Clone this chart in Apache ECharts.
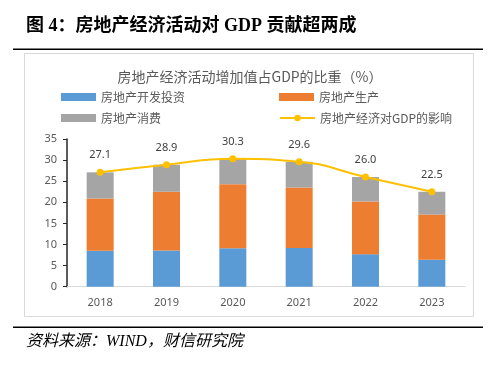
<!DOCTYPE html>
<html><head><meta charset="utf-8">
<script src="https://cdn.jsdelivr.net/npm/echarts@6/dist/echarts.min.js"></script>
<style>html,body{margin:0;padding:0;background:#fff}#c{width:500px;height:366px}</style>
</head><body><div id="c"></div>
<script>
const categories = ['2018','2019','2020','2021','2022','2023'];
const invest = [8.5, 8.6, 9.1, 9.2, 7.7, 6.4];
const produce = [12.4, 13.9, 15.2, 14.3, 12.5, 10.7];
const consume = [6.2, 6.4, 6.0, 6.1, 5.8, 5.4];
const total = [27.1, 28.9, 30.3, 29.6, 26.0, 22.5];
const yTicks = [0,5,10,15,20,25,30,35];

const chart = echarts.init(document.getElementById('c'), null, {renderer:'canvas'});
const txt = '#595959';
const lg = (name, left, top, icon) => ({
  data:[icon ? {name, icon} : name], left, top, itemWidth:35, itemHeight:8, itemGap:4,
  textStyle:{color:txt, fontSize:12, fontFamily:'Noto Sans CJK SC'}, padding:0
});
chart.setOption({
  animation:false,
  title:{text:'房地产经济活动增加值占GDP的比重（%）', left:'center', top:65,
    textStyle:{color:txt, fontSize:14, fontWeight:'normal', fontFamily:'Noto Sans CJK SC'}},
  legend:[
    lg('房地产开发投资', 61, 91, 'rect'),
    lg('房地产生产', 279, 91, 'rect'),
    lg('房地产消费', 61, 112, 'rect'),
    lg('房地产经济对GDP的影响', 279, 112)
  ],
  grid:{left:67, right:35, top:139, bottom:79.3},
  xAxis:{type:'category', data:categories,
    axisLine:{lineStyle:{color:'#d9d9d9'}}, axisTick:{show:false},
    axisLabel:{color:txt, fontSize:11, margin:11, fontFamily:'Noto Sans'}},
  yAxis:{type:'value', min:0, max:35, interval:5,
    axisLine:{show:true, lineStyle:{color:'#262626', width:1.5}},
    axisTick:{show:true, inside:false, length:4, lineStyle:{color:'#262626'}},
    splitLine:{show:false},
    axisLabel:{color:txt, fontSize:11, margin:10, fontFamily:'Noto Sans',
      formatter:v => yTicks.includes(v) ? String(v) : ''}},
  series:[
    {name:'房地产开发投资', type:'bar', stack:'s', data:invest, barWidth:27, itemStyle:{color:'#5B9BD5'}},
    {name:'房地产生产', type:'bar', stack:'s', data:produce, itemStyle:{color:'#ED7D31'}},
    {name:'房地产消费', type:'bar', stack:'s', data:consume, itemStyle:{color:'#A5A5A5'}},
    {name:'房地产经济对GDP的影响', type:'line', data:total, smooth:true, symbol:'circle', symbolSize:7,
      lineStyle:{color:'#FFC000', width:2}, itemStyle:{color:'#FFC000'},
      label:{show:true, position:'top', distance:8, color:'#404040', fontSize:11, fontFamily:'Noto Sans',
        formatter:p => p.value.toFixed(1)}}
  ],
  graphic:[
    {type:'text', left:26, top:17, style:{text:'图 4：房地产经济活动对 GDP 贡献超两成',
      font:'bold 18px "Liberation Serif", "Noto Sans CJK SC"', fill:'#000'}},
    {type:'rect', shape:{x:13, y:48.5, width:470, height:1.5}, style:{fill:'#000'}},
    {type:'rect', shape:{x:24.5, y:53.5, width:449, height:263}, style:{fill:'none', stroke:'#d9d9d9', lineWidth:1}, z:-1},
    {type:'rect', shape:{x:13, y:326.5, width:470, height:1.5}, style:{fill:'#000'}},
    {type:'text', left:26, top:334, style:{text:'资料来源：WIND，财信研究院',
      font:'italic 16px "Liberation Serif", "Noto Sans CJK SC"', fill:'#000'}}
  ]
});
</script></body></html>
